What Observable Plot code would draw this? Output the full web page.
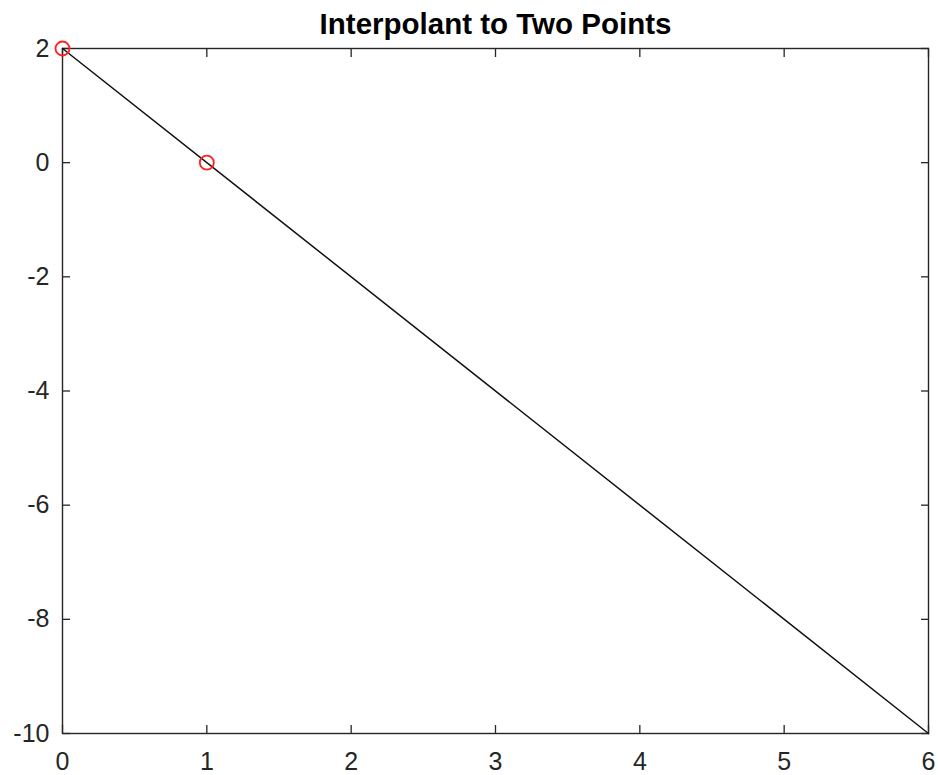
<!DOCTYPE html>
<html>
<head>
<meta charset="utf-8">
<script src="https://cdn.jsdelivr.net/npm/d3@7"></script>
<script src="https://cdn.jsdelivr.net/npm/@observablehq/plot@0.6"></script>
<style>
  html, body { margin: 0; padding: 0; background: #fff; }
  #chart svg { display: block; }
</style>
</head>
<body>
<div id="chart"></div>
<script>
const titleText = "Interpolant to Two Points";
const lineX = [0, 6];
const lineY = [2, -10];
const pointX = [0, 1];
const pointY = [2, 0];
const xTicks = [0, 1, 2, 3, 4, 5, 6];
const yTicks = [-10, -8, -6, -4, -2, 0, 2];

const lineData = lineX.map((x, i) => ({x, y: lineY[i]}));
const pointData = pointX.map((x, i) => ({x, y: pointY[i]}));

const axisColor = "#262626";
const tickFont = 25;
const fmt = d => String(d);

const chart = Plot.plot({
  width: 938,
  height: 775,
  marginLeft: 62,
  marginRight: 10,
  marginTop: 48,
  marginBottom: 42,
  style: {fontFamily: "'Liberation Sans', Arial, Helvetica, sans-serif", background: "#fff", color: axisColor},
  x: {domain: [0, 6]},
  y: {domain: [-10, 2]},
  marks: [
    // inward ticks on all four sides
    Plot.axisX(xTicks, {anchor: "bottom", tickSize: -8, tickFormat: () => "", label: null, stroke: axisColor, strokeWidth: 1.3}),
    Plot.axisX(xTicks, {anchor: "top", tickSize: -8, tickFormat: () => "", label: null, stroke: axisColor, strokeWidth: 1.3}),
    Plot.axisY(yTicks, {anchor: "left", tickSize: -8, tickFormat: () => "", label: null, stroke: axisColor, strokeWidth: 1.3}),
    Plot.axisY(yTicks, {anchor: "right", tickSize: -8, tickFormat: () => "", label: null, stroke: axisColor, strokeWidth: 1.3}),
    // labels
    Plot.axisX(xTicks, {anchor: "bottom", tickSize: 0, tickPadding: 19, label: null, fontSize: tickFont, fill: axisColor, tickFormat: fmt}),
    Plot.axisY(yTicks, {anchor: "left", tickSize: 0, tickPadding: 13, label: null, fontSize: tickFont, fill: axisColor, tickFormat: fmt}),
    Plot.frame({stroke: axisColor, strokeWidth: 1.4}),
    Plot.line(lineData, {x: "x", y: "y", stroke: "#111", strokeWidth: 1.5}),
    Plot.dot(pointData, {x: "x", y: "y", r: 7, stroke: "#ff2020", strokeWidth: 1.8}),
    Plot.text([titleText], {frameAnchor: "top", lineAnchor: "top", dy: -35, fontWeight: "bold", fontSize: 29.5, fill: "#000"})
  ]
});
document.getElementById("chart").appendChild(chart);
</script>
</body>
</html>
